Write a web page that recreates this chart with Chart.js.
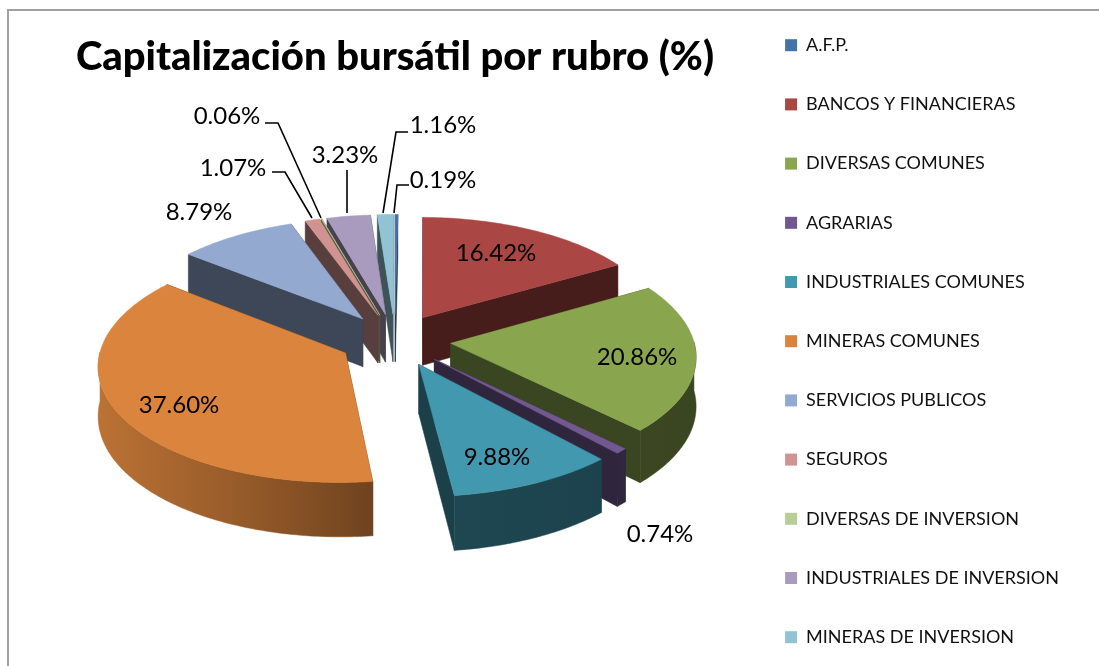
<!DOCTYPE html>
<html><head><meta charset="utf-8">
<style>
html,body{margin:0;padding:0;background:#fff;overflow:hidden;width:1099px;height:666px}
#wrap{position:absolute;left:0;top:0;width:1099px;height:666px;overflow:hidden}
#frame{position:absolute;left:7px;top:9px;width:1092px;height:657px;border-top:2px solid #a0a0a0;border-left:2px solid #a0a0a0;box-sizing:border-box}
canvas{position:absolute;left:0;top:-5px}
</style>
<script src="https://cdn.jsdelivr.net/npm/chart.js@4"></script>
</head><body>
<div id="wrap"><div id="frame"></div><canvas id="c" width="1099" height="710"></canvas></div>
<script>
const categories = ["A.F.P.","BANCOS Y FINANCIERAS","DIVERSAS COMUNES","AGRARIAS","INDUSTRIALES COMUNES","MINERAS COMUNES","SERVICIOS PUBLICOS","SEGUROS","DIVERSAS DE INVERSION","INDUSTRIALES DE INVERSION","MINERAS DE INVERSION"];
const values = [0.19,16.42,20.86,0.74,9.88,37.60,8.79,1.07,0.06,3.23,1.16];
const colors = ["#4572A7","#AA4643","#89A54E","#71588F","#4198AF","#DB843D","#93A9CF","#D19392","#B9CD96","#A99BBD","#92C3D4"];
const labelPos = [[443,180],[496,253],[637,357],[660,534],[497,457],[179,405],[199,212],[233,168],[227,116],[345,155],[443,125]];
const leaders = {0:[[409,185],[397,185],[394,213]],7:[[272,172],[285,172],[312,218]],8:[[265,123],[278,123],[321,218]],9:[[347,170],[347,213]],10:[[408,132],[396,132],[383,213]]};

const SHIFT = 5, CY = 340, TILT = 0.47, PERSP = 2500, DEPTH = 48.5;
function shade(hex,f){const n=parseInt(hex.slice(1),16);return `rgb(${Math.round((n>>16&255)*f)},${Math.round((n>>8&255)*f)},${Math.round((n&255)*f)})`;}

const pie3d = {
  id:'pie3d',
  beforeDatasetDraw(chart,args){
    const ctx = chart.ctx, meta = chart.getDatasetMeta(args.index);
    const first = meta.data[0];
    const cx0 = first.x;
    const P = (u,v)=>{const s=PERSP/(PERSP-v);return [cx0+u*s, CY+v*TILT*s, DEPTH*s];};
    ctx.save();
    ctx.translate(0,SHIFT);
    const R0 = first.outerRadius;
    const items = meta.data.map((el,i)=>{
      const a0=el.startAngle,a1=el.endAngle,mid=(a0+a1)/2,off=el.options.offset,R=el.outerRadius;
      const ou=Math.cos(mid)*off, ov=Math.sin(mid)*off;
      return {i,a0,a1,mid,ou,ov,R,key:ov+Math.sin(mid)*R*0.5};
    }).sort((a,b)=>a.key-b.key);
    const grad=(hex)=>{
      const g=ctx.createLinearGradient(cx0-R0-56,0,cx0+R0+56,0);
      g.addColorStop(0,shade(hex,.86));g.addColorStop(.25,shade(hex,.68));g.addColorStop(.5,shade(hex,.48));g.addColorStop(1,shade(hex,.42));
      return g;
    };
    const rim=(it,a)=>[it.ou+Math.cos(a)*it.R, it.ov+Math.sin(a)*it.R];
    const poly=(pts,fill)=>{ctx.beginPath();pts.forEach((p,k)=>k?ctx.lineTo(p[0],p[1]):ctx.moveTo(p[0],p[1]));ctx.closePath();ctx.fillStyle=fill;ctx.fill();ctx.strokeStyle=fill;ctx.lineWidth=.5;ctx.stroke();};
    for(const it of items){
      const col=colors[it.i];
      const c=P(it.ou,it.ov), e0=P(...rim(it,it.a0)), e1=P(...rim(it,it.a1));
      const cut=shade(col,.42);
      [e1,e0].forEach(e=>poly([c,e,[e[0],e[1]+e[2]],[c[0],c[1]+c[2]]],cut));
      const n=Math.max(4,Math.ceil((it.a1-it.a0)*60)), top=[],bot=[];
      for(let k=0;k<=n;k++){
        const a=it.a0+(it.a1-it.a0)*k/n;
        if(Math.sin(a)<-0.02) continue;
        const p=P(...rim(it,a));top.push([p[0],p[1]]);bot.unshift([p[0],p[1]+p[2]]);
      }
      if(top.length>1) poly(top.concat(bot),grad(col));
      const face=[[c[0],c[1]]];
      for(let k=0;k<=n;k++){const a=it.a0+(it.a1-it.a0)*k/n;const p=P(...rim(it,a));face.push([p[0],p[1]]);}
      poly(face,col);
    }
    ctx.restore();
    return false;
  },
  afterDatasetsDraw(chart){
    const ctx=chart.ctx;
    ctx.save();
    ctx.translate(0,SHIFT);
    ctx.strokeStyle='#000';ctx.lineWidth=1.6;
    Object.values(leaders).forEach(pts=>{ctx.beginPath();pts.forEach((p,k)=>k?ctx.lineTo(p[0],p[1]):ctx.moveTo(p[0],p[1]));ctx.stroke();});
    ctx.fillStyle='#000';ctx.font='24px Lato';ctx.textAlign='center';ctx.textBaseline='middle';
    values.forEach((v,i)=>ctx.fillText(v.toFixed(2)+'%',labelPos[i][0],labelPos[i][1]));
    ctx.restore();
  }
};

new Chart(document.getElementById('c'),{
  type:'pie',
  data:{labels:categories,datasets:[{data:values,backgroundColor:colors,borderWidth:0,offset:56,radius:243}]},
  options:{
    responsive:false,animation:false,rotation:0,
    layout:{padding:{left:46,right:30}},
    plugins:{
      title:{display:true,fullSize:false,text:'Capitalización bursátil por rubro (%)',color:'#000',font:{family:'Lato',size:40,weight:'900',lineHeight:1},padding:{top:42,bottom:10}},
      legend:{position:'right',align:'start',labels:{boxWidth:12,boxHeight:12,padding:41.2,color:'#111',font:{family:'Lato',size:18}}},
      tooltip:{enabled:false}
    }
  },
  plugins:[pie3d]
});
</script>
</body></html>
